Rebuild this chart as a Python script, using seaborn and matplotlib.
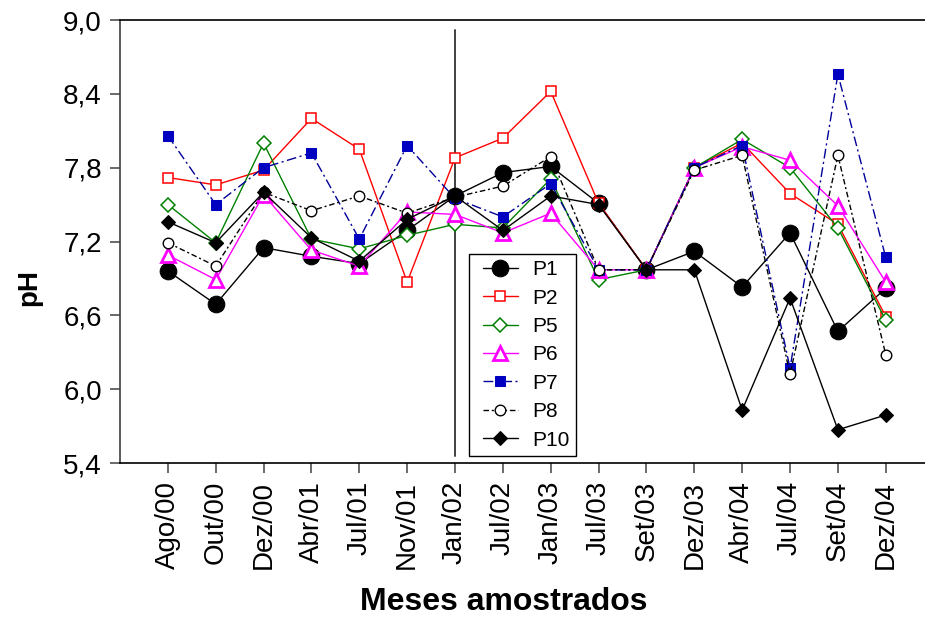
import matplotlib
matplotlib.use("Agg")
import matplotlib.pyplot as plt
from matplotlib.lines import Line2D
from matplotlib.legend_handler import HandlerLine2D
import seaborn as sns
import pandas as pd

# Sampling months (x axis categories)
meses = ["Ago/00", "Out/00", "Dez/00", "Abr/01", "Jul/01", "Nov/01", "Jan/02",
         "Jul/02", "Jan/03", "Jul/03", "Set/03", "Dez/03", "Abr/04", "Jul/04",
         "Set/04", "Dez/04"]

# pH per sampling point
p1 = [6.96, 6.69, 7.15, 7.08, 7.02, 7.29, 7.57, 7.76, 7.81, 7.51, 6.97, 7.12, 6.83, 7.27, 6.47, 6.82]
p2 = [7.72, 7.66, 7.78, 8.20, 7.95, 6.87, 7.88, 8.04, 8.42, 7.51, 6.97, 7.80, 8.00, 7.59, 7.34, 6.59]
p5 = [7.50, 7.19, 8.00, 7.22, 7.14, 7.25, 7.34, 7.31, 7.71, 6.89, 6.97, 7.80, 8.03, 7.80, 7.31, 6.56]
p6 = [7.09, 6.89, 7.58, 7.13, 7.00, 7.44, 7.42, 7.27, 7.43, 6.97, 6.97, 7.80, 7.97, 7.86, 7.49, 6.87]
p7 = [8.06, 7.50, 7.80, 7.92, 7.22, 7.98, 7.55, 7.40, 7.67, 6.97, 6.97, 7.80, 7.98, 6.17, 8.56, 7.07]
p8 = [7.19, 7.00, 7.60, 7.45, 7.57, 7.43, 7.56, 7.65, 7.89, 6.97, 6.97, 7.78, 7.90, 6.12, 7.90, 6.28]
p10 = [7.36, 7.19, 7.60, 7.23, 7.04, 7.38, 7.57, 7.29, 7.57, 7.50, 6.97, 6.97, 5.83, 6.74, 5.67, 5.79]

pontos = ["P1", "P2", "P5", "P6", "P7", "P8", "P10"]
valores = [p1, p2, p5, p6, p7, p8, p10]

y_ticks = [5.4, 6.0, 6.6, 7.2, 7.8, 8.4, 9.0]
y_tick_labels = ["5,4", "6,0", "6,6", "7,2", "7,8", "8,4", "9,0"]
marco = "Jan/02"

df = pd.DataFrame({
    "Mes": meses * len(pontos),
    "pH": [v for serie in valores for v in serie],
    "Ponto": [p for p, serie in zip(pontos, valores) for _ in serie],
})

sns.set_theme(style="white")
plt.rcParams["font.family"] = ["Liberation Sans", "DejaVu Sans"]
plt.rcParams["text.color"] = "black"
plt.rcParams["axes.labelcolor"] = "black"
plt.rcParams["xtick.color"] = "black"
plt.rcParams["ytick.color"] = "black"

estilos = {
    "P1": dict(color="black", marker="o", markersize=12, mfc="black", mec="black",
               linestyle="-"),
    "P2": dict(color="#FF0000", marker="s", markersize=7.2, mfc="white", mec="#FF0000",
               mew=1.1, linestyle="-"),
    "P5": dict(color="#008000", marker="D", markersize=7.0, mfc="white", mec="#008000",
               mew=1.1, linestyle="-"),
    "P6": dict(color="#FF00FF", marker="^", markersize=9.5, mfc="white", mec="#FF00FF",
               mew=2.0, linestyle="-"),
    "P7": dict(color="#000099", marker="s", markersize=7.6, mfc="#0000C0", mec="#0000C0",
               linestyle=(0, (7, 2.5, 1.5, 2.5))),
    "P8": dict(color="black", marker="o", markersize=7.6, mfc="white", mec="black",
               mew=1.0, linestyle=(0, (4, 2, 1.5, 2))),
    "P10": dict(color="black", marker="D", markersize=7.0, mfc="black", mec="black",
                linestyle="-"),
}

fig = plt.figure(figsize=(9.25, 6.17), dpi=100)
ax = fig.add_axes([120 / 925, 154 / 617, 805 / 925, 443 / 617])

for ponto in pontos:
    sub = df[df["Ponto"] == ponto]
    sns.lineplot(data=sub, x="Mes", y="pH", ax=ax, sort=False, label=ponto,
                 linewidth=1.0, **estilos[ponto])

ax.set_xlim(-1, 15.82)
ax.set_ylim(5.4, 9.0)

# Reference line marking Jan/02
ax.plot([meses.index(marco)] * 2, [5.457, 8.92], color="#404040", linewidth=1.4, zorder=1)

ax.set_yticks(y_ticks)
ax.set_yticklabels(y_tick_labels, fontsize=20)
ax.set_xticks(range(len(meses)))
ax.set_xticklabels(meses, rotation=90, fontsize=20)

ax.set_xlabel("Meses amostrados", fontsize=23, fontweight="bold")
ax.set_ylabel("pH", fontsize=20, fontweight="bold")
ax.xaxis.set_label_coords(0.477, -0.28)
ax.yaxis.set_label_coords(-0.097, 0.397)

ax.spines["right"].set_visible(False)
ax.spines["top"].set_color("black")
ax.spines["bottom"].set_color("black")
ax.spines["left"].set_color("#404040")
for s in ["top", "bottom", "left"]:
    ax.spines[s].set_linewidth(1.2)

ax.tick_params(axis="both", which="both", direction="out", length=7, width=1.2,
               color="#505050", labelcolor="black", pad=6)
ax.tick_params(axis="x", bottom=True)
ax.tick_params(axis="y", left=True)

leg = ax.legend(loc="upper left", bbox_to_anchor=(469 / 925, 1 - 254 / 617),
                bbox_transform=fig.transFigure, fontsize=15, frameon=True,
                fancybox=False, edgecolor="black", handlelength=2.05,
                handletextpad=0.67, labelspacing=0.45, borderpad=0.3,
                borderaxespad=0.0, numpoints=1,
                handler_map={Line2D: HandlerLine2D(xpad=0.35)})
leg.get_frame().set_linewidth(1.0)
leg.get_frame().set_alpha(1.0)
for t in leg.get_texts():
    t.set_color("black")

fig.savefig("out.png", dpi=100, facecolor="white")
